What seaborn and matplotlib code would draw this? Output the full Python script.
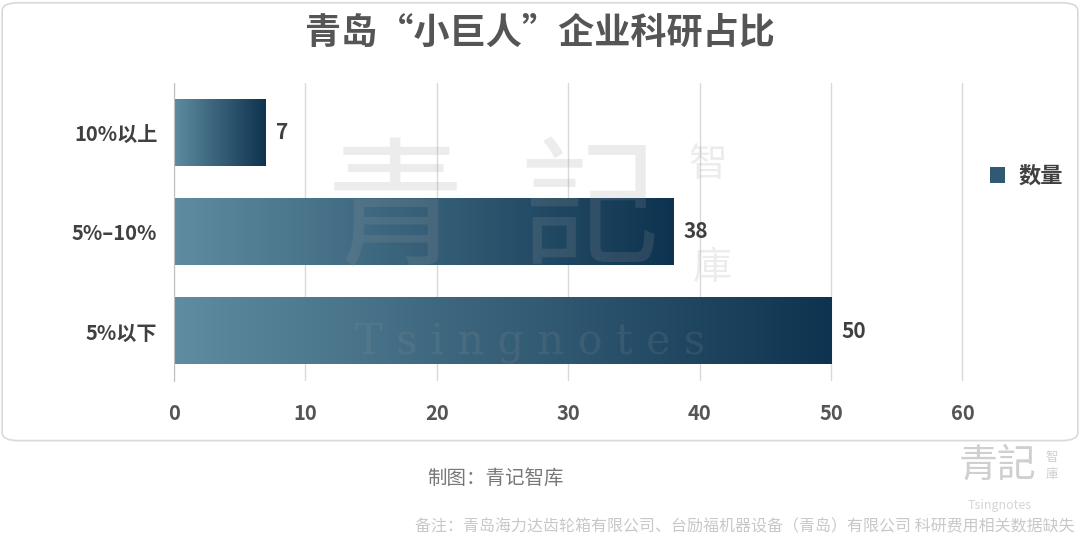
import numpy as np
import pandas as pd
import matplotlib
matplotlib.use('Agg')
import matplotlib.pyplot as plt
from matplotlib.colors import LinearSegmentedColormap
from matplotlib.patches import FancyBboxPatch, Patch
import seaborn as sns

categories = ['10%以上', '5%–10%', '5%以下']
counts = [7, 38, 50]
series_name = '数量'
x_ticks = [0, 10, 20, 30, 40, 50, 60]

sns.set_style('white')
plt.rcParams['font.family'] = ['Noto Sans CJK SC', 'DejaVu Sans']

df = pd.DataFrame({'cat': categories, 'val': counts})

fig = plt.figure(figsize=(10.8, 5.46), dpi=100)

# card frame
card = FancyBboxPatch((0.002, 0.193), 0.996, 0.802, boxstyle='round,pad=0,rounding_size=0.015',
                      transform=fig.transFigure, facecolor='none', edgecolor='#d9d9d9',
                      linewidth=1.2, zorder=-1)
fig.patches.append(card)

ax = fig.add_axes([174 / 1080, 1 - 381 / 546, 795 / 1080, 298 / 546])
ax.patch.set_alpha(0)

sns.barplot(data=df, x='val', y='cat', orient='h', width=0.667, color='#2f5a74', ax=ax, zorder=2)

cmap = LinearSegmentedColormap.from_list('bar', ['#5f8ca0', '#0e3350'])
grad = np.linspace(0, 1, 256).reshape(1, -1)
for p in ax.patches:
    x0, y0 = p.get_x(), p.get_y()
    w, h = p.get_width(), p.get_height()
    p.set_facecolor('none')
    p.set_edgecolor('none')
    ax.imshow(grad, cmap=cmap, aspect='auto', extent=[x0, x0 + w, y0 + h, y0], zorder=2)
    ax.text(x0 + w + 0.8, y0 + h / 2, str(int(w)), va='center', ha='left',
            fontsize=15, fontweight='bold', color='#404040')

ax.set_xlim(0, 60.5)
ax.set_ylim(2.5, -0.5)
ax.set_xticks(x_ticks)
ax.set_xticklabels([str(t) for t in x_ticks], fontsize=14.5, fontweight='bold', color='#555555')
ax.set_yticks(range(len(categories)))
ax.set_yticklabels(categories, fontsize=14.5, fontweight='bold', color='#404040')
ax.set_yticks([-0.5, 0.5, 1.5, 2.5], minor=True)
ax.tick_params(axis='y', which='major', length=0, pad=12)
ax.tick_params(axis='y', which='minor', length=8, color='#bfbfbf', width=1)
ax.tick_params(axis='x', length=0, pad=16)
ax.grid(axis='x', color='#d9d9d9', linewidth=1, zorder=0)
ax.set_axisbelow(True)
for s in ['top', 'right', 'bottom']:
    ax.spines[s].set_visible(False)
ax.spines['left'].set_color('#bfbfbf')
ax.set_xlabel('')
ax.set_ylabel('')

fig.legend(handles=[Patch(facecolor='#2f5a74', edgecolor='none', label=series_name)],
           loc='center left', bbox_to_anchor=(0.898, 1 - 176 / 546), frameon=False,
           prop={'size': 16, 'weight': 'bold'}, handlelength=0.7, handleheight=0.7,
           handletextpad=0.6, labelcolor='#404040')

fig.text(0.5, 1 - 33 / 546, '青岛“小巨人”企业科研占比', ha='center', va='center',
         fontsize=26, fontweight='bold', color='#555555')

# watermark
wm = dict(color='#9a9a9a', alpha=0.18, family=['Noto Sans CJK TC', 'DejaVu Sans'], zorder=10)
fig.text(395 / 1080, 1 - 215 / 546, '青', fontsize=100, ha='center', va='center', **wm)
fig.text(590 / 1080, 1 - 215 / 546, '記', fontsize=100, ha='center', va='center', **wm)
fig.text(708 / 1080, 1 - 165 / 546, '智', fontsize=28, ha='center', va='center', **wm)
fig.text(712 / 1080, 1 - 268 / 546, '庫', fontsize=28, ha='center', va='center', **wm)
fig.text(530 / 1080, 1 - 343 / 546, 'T s i n g n o t e s', fontsize=30, ha='center', va='center',
         color='#9a9a9a', alpha=0.15, zorder=10, family='DejaVu Serif')

# footer
fig.text(495 / 1080, 1 - 478 / 546, '制图：青记智库', fontsize=14, ha='center', va='center', color='#777777')
fig.text(1075 / 1080, 1 - 527 / 546,
         '备注：青岛海力达齿轮箱有限公司、台励福机器设备（青岛）有限公司 科研费用相关数据缺失',
         fontsize=11.5, ha='right', va='center', color='#c8c8c8')
logo = dict(color='#cfcfcf', family=['Noto Sans CJK TC', 'DejaVu Sans'])
fig.text(998 / 1080, 1 - 465 / 546, '青記', fontsize=28, ha='center', va='center', **logo)
fig.text(1052 / 1080, 1 - 457 / 546, '智', fontsize=9, ha='center', va='center', **logo)
fig.text(1052 / 1080, 1 - 475 / 546, '庫', fontsize=9, ha='center', va='center', **logo)
fig.text(1000 / 1080, 1 - 505 / 546, 'Tsingnotes', fontsize=9, ha='center', va='center', color='#d5d5d5')

fig.savefig('out.png', dpi=100)
